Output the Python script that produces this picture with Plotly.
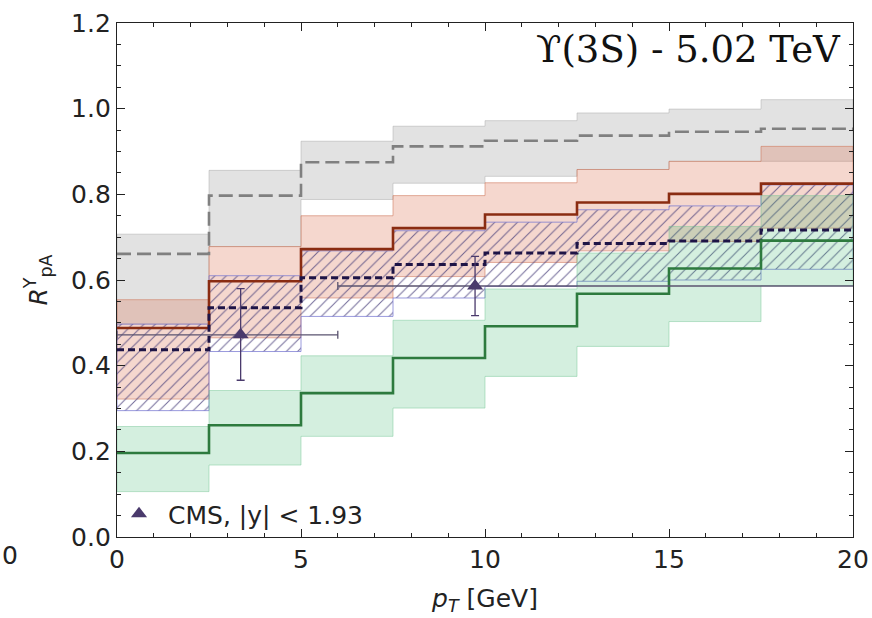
import plotly.graph_objects as go

# ---------------- data ----------------
pt_edges = [0, 2.5, 5, 7.5, 10, 12.5, 15, 17.5, 20]

gray_central = [0.661, 0.797, 0.875, 0.912, 0.925, 0.937, 0.946, 0.953]
gray_upper   = [0.707, 0.856, 0.924, 0.959, 0.972, 0.990, 0.999, 1.021]
gray_lower   = [0.497, 0.678, 0.788, 0.826, 0.842, 0.858, 0.877, 0.877]

red_central  = [0.488, 0.597, 0.672, 0.721, 0.753, 0.781, 0.801, 0.825]
red_upper    = [0.554, 0.678, 0.750, 0.797, 0.827, 0.858, 0.877, 0.912]
red_lower    = [0.322, 0.465, 0.558, 0.608, 0.641, 0.668, 0.690, 0.721]

navy_central = [0.437, 0.535, 0.605, 0.636, 0.663, 0.685, 0.691, 0.717]
navy_upper   = [0.497, 0.610, 0.668, 0.715, 0.735, 0.764, 0.773, 0.822]
navy_lower   = [0.295, 0.433, 0.515, 0.558, 0.585, 0.597, 0.600, 0.625]

green_central = [0.196, 0.261, 0.336, 0.418, 0.492, 0.568, 0.627, 0.692]
green_upper   = [0.258, 0.342, 0.423, 0.506, 0.579, 0.663, 0.725, 0.797]
green_lower   = [0.106, 0.168, 0.235, 0.301, 0.375, 0.445, 0.503, 0.587]

cms_pt      = [3.36, 9.73]
cms_pt_lo   = [0.0, 6.0]
cms_pt_hi   = [6.0, 30.0]
cms_raa     = [0.472, 0.586]
cms_err_up  = [0.108, 0.069]
cms_err_dn  = [0.106, 0.069]

x_ticks = [0, 5, 10, 15, 20]
y_ticks = [0.0, 0.2, 0.4, 0.6, 0.8, 1.0, 1.2]

FONT = "DejaVu Sans"
FS = 25

# ---------------- helpers ----------------
def step_xy(values):
    return pt_edges, list(values) + [values[-1]]

def band_polygon(lower, upper):
    xs, ys = [], []
    for i, u in enumerate(upper):
        xs += [pt_edges[i], pt_edges[i + 1]]
        ys += [u, u]
    for i in range(len(lower) - 1, -1, -1):
        xs += [pt_edges[i + 1], pt_edges[i]]
        ys += [lower[i], lower[i]]
    xs.append(xs[0]); ys.append(ys[0])
    return xs, ys

fig = go.Figure()

def add_band(lower, upper, fill, edge, pattern=None):
    xs, ys = band_polygon(lower, upper)
    kw = dict(x=xs, y=ys, mode="lines", fill="toself", fillcolor=fill,
              line=dict(color=edge, width=1), hoverinfo="skip", showlegend=False)
    if pattern is not None:
        kw["fillpattern"] = pattern
    fig.add_trace(go.Scatter(**kw))

add_band(gray_lower, gray_upper, "rgba(175,175,175,0.36)", "rgba(165,165,165,0.45)")
add_band(red_lower, red_upper, "rgba(220,110,80,0.28)", "rgba(205,115,85,0.55)")
add_band(navy_lower, navy_upper, "rgba(0,0,0,0)", "rgba(120,120,210,0.75)",
         pattern=dict(shape="/", size=8, solidity=0.13,
                      fgcolor="rgba(70,60,120,0.75)", bgcolor="rgba(0,0,0,0)",
                      fgopacity=1))
add_band(green_lower, green_upper, "rgba(60,180,110,0.22)", "rgba(110,195,145,0.45)")

def add_line(values, color, width, dash):
    xs, ys = step_xy(values)
    fig.add_trace(go.Scatter(x=xs, y=ys, mode="lines", line_shape="hv",
                             line=dict(color=color, width=width, dash=dash),
                             hoverinfo="skip", showlegend=False))

add_line(gray_central, "#808080", 2.6, "14px,6px")
add_line(red_central, "#8a2c12", 2.6, "solid")
add_line(navy_central, "#1e1446", 3.0, "7px,4px")
add_line(green_central, "#2d7a3e", 2.6, "solid")

# CMS data
fig.add_trace(go.Scatter(
    x=cms_pt, y=cms_raa, mode="markers", name="CMS, |y| < 1.93",
    marker=dict(symbol="triangle-up", size=14, color="#4a3a6c"),
    error_y=dict(type="data", symmetric=False, array=cms_err_up,
                 arrayminus=cms_err_dn, color="#4a3a6c", thickness=1.3, width=4),
    error_x=dict(type="data", symmetric=False,
                 array=[h - c for h, c in zip(cms_pt_hi, cms_pt)],
                 arrayminus=[c - l for l, c in zip(cms_pt_lo, cms_pt)],
                 color="#5b5470", thickness=1.3, width=4),
))

axis_common = dict(
    showgrid=False, zeroline=False, showline=True, linecolor="#222", linewidth=1.3,
    mirror="ticks", ticks="inside", ticklen=8, tickwidth=1.2, tickcolor="#222",
    tickfont=dict(family=FONT, size=FS, color="#222"), automargin=False,
)

fig.update_xaxes(range=[0, 20], tickvals=x_ticks, ticktext=[str(v) for v in x_ticks],
                 minor=dict(dtick=1, ticks="inside", ticklen=4, tickcolor="#222", tickwidth=1),
                 title=dict(text="<i>p</i><sub><i>T</i></sub> [GeV]",
                            font=dict(family=FONT, size=FS, color="#222"),
                            standoff=16),
                 **axis_common)
fig.update_yaxes(range=[0, 1.2], tickvals=y_ticks, ticktext=[f"{v:.1f}" for v in y_ticks],
                 minor=dict(dtick=0.05, ticks="inside", ticklen=4, tickcolor="#222", tickwidth=1),
                 title=dict(text="<i>R</i><sup>Υ</sup><sub>pA</sub>",
                            font=dict(family=FONT, size=FS, color="#222"),
                            standoff=16),
                 **axis_common)

fig.add_annotation(xref="paper", yref="paper", x=0.986, y=0.949,
                   xanchor="right", yanchor="middle", showarrow=False,
                   text="ϒ(3S) - 5.02 TeV",
                   font=dict(family="DejaVu Serif", size=37, color="#111"))
# tick label remnant of neighbouring panel at far left
fig.add_annotation(xref="paper", yref="paper", x=-0.145, y=-0.036,
                   xanchor="center", yanchor="middle", showarrow=False,
                   text="0", font=dict(family=FONT, size=FS, color="#222"))

fig.update_layout(
    width=872, height=618,
    margin=dict(l=117, r=19, t=23, b=81),
    plot_bgcolor="white", paper_bgcolor="white",
    showlegend=True,
    legend=dict(x=-0.0095, y=0.0, xanchor="left", yanchor="bottom",
                bgcolor="rgba(0,0,0,0)", borderwidth=0,
                font=dict(family=FONT, size=FS, color="#222"),
                itemwidth=48),
)

fig.write_html(
    "out.html",
    config={"displayModeBar": False},
    post_script="document.body.style.margin='0';document.body.style.overflow='hidden';",
)
